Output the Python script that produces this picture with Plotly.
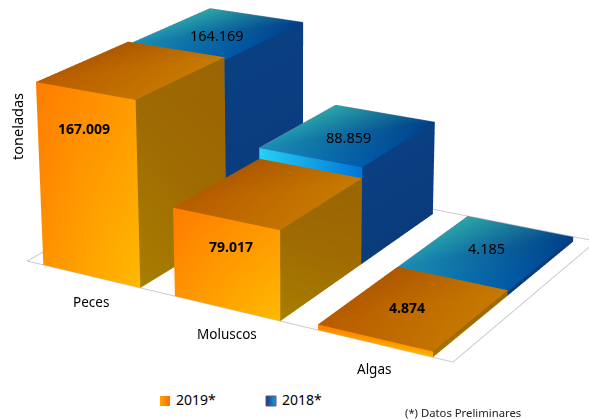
import plotly.graph_objects as go

categories = ["Peces", "Moluscos", "Algas"]
series_names = ["2019*", "2018*"]
values_2019 = [167009, 79017, 4874]
values_2018 = [164169, 88859, 4185]
labels_2019 = ["167.009", "79.017", "4.874"]
labels_2018 = ["164.169", "88.859", "4.185"]
front_label_height = [0.80, 0.69, None]
label_xshift_2019 = [-2, 5, -7]
label_yshift_2018 = [-2, -2, 4]

# Camera model of the reference picture: x = category, y = depth, z = tonnes
W, H = 589, 419
F = H * 1.2071
CX, CY = W / 2, H / 2
ORIGIN = (27, 261)
VP_X, A_X = (-3097, -480), -0.04
VP_Y, A_Y = (1593, -600), 0.0608
VP_Z, A_Z = (295, 6500), -0.0001697 / 1000
S = 2.0


def project(x, y, z):
    w = 1 + A_X * x + A_Y * y + A_Z * z
    nx = ORIGIN[0] + A_X * VP_X[0] * x + A_Y * VP_Y[0] * y + A_Z * VP_Z[0] * z
    ny = ORIGIN[1] + A_X * VP_X[1] * x + A_Y * VP_Y[1] * y + A_Z * VP_Z[1] * z
    return S * (nx - CX * w) / F, S * (CY * w - ny) / F, S - S * w


BAR_X0, BAR_X1 = 0.13, 0.875
FLOOR_DEPTH = 2.08

ORANGE = dict(
    front=["#ff7c00", "#ff9c00", "#ffb900", "#ff9200"],
    top=["#b85c00", "#c47400", "#c67a00", "#ac5800"],
    side=["#9e6a04", "#9a6404", "#a06c00", "#a87e00"],
)
BLUE = dict(
    front=["#28d0f4", "#0074d8", "#0074d8", "#28d0f4"],
    top=["#1b8fb4", "#005aa8", "#003f88", "#2aa6a6"],
    side=["#0a3f82", "#0a3f82", "#0a3c7c", "#0a3c7c"],
)


def bar_mesh(values, depth0, colors):
    xs, ys, zs, cs, ii, jj, kk = [], [], [], [], [], [], []

    def quad(corners, quad_colors):
        n = len(xs)
        for (a, b, c), col in zip(corners, quad_colors):
            px, py, pz = project(a, b, c)
            xs.append(px), ys.append(py), zs.append(pz), cs.append(col)
        ii.extend([n, n]), jj.extend([n + 1, n + 2]), kk.extend([n + 2, n + 3])

    d0, d1 = depth0, depth0 + 1
    for i, v in enumerate(values):
        x0, x1 = i + BAR_X0, i + BAR_X1
        quad([(x0, d0, v), (x1, d0, v), (x1, d0, 0), (x0, d0, 0)], colors["front"])
        quad([(x0, d0, v), (x1, d0, v), (x1, d1, v), (x0, d1, v)], colors["top"])
        quad([(x1, d0, v), (x1, d1, v), (x1, d1, 0), (x1, d0, 0)], colors["side"])
    return go.Mesh3d(
        x=xs, y=ys, z=zs, i=ii, j=jj, k=kk, vertexcolor=cs, flatshading=False,
        lighting=dict(ambient=1, diffuse=0, specular=0, roughness=1, fresnel=0),
        hoverinfo="skip", showlegend=False, showscale=False,
    )


def polyline(points):
    px, py, pz = [], [], []
    for p in points:
        if p is None:
            px.append(None), py.append(None), pz.append(None)
        else:
            a, b, c = project(*p)
            px.append(a), py.append(b), pz.append(c)
    return px, py, pz


n_cat = len(categories)
floor = polyline([(0, 0, 0), (n_cat, 0, 0), (n_cat, FLOOR_DEPTH, 0), (0, FLOOR_DEPTH, 0), (0, 0, 0)])
floor_trace = go.Scatter3d(x=floor[0], y=floor[1], z=floor[2], mode="lines",
                           line=dict(color="#cbcbcb", width=2), hoverinfo="skip", showlegend=False)

edge_pts = []
for i, v in enumerate(values_2018):
    x0, x1 = i + BAR_X0, i + BAR_X1
    edge_pts += [(x0, 1, v), (x0, 2, v), (x1, 2, v), None]
edges = polyline(edge_pts)
edge_trace = go.Scatter3d(x=edges[0], y=edges[1], z=edges[2], mode="lines",
                          line=dict(color="#6f80a6", width=2), hoverinfo="skip", showlegend=False)

FONT = "Noto Sans, Open Sans, sans-serif"
INK = "#000000"

fig = go.Figure([floor_trace, bar_mesh(values_2019, 0, ORANGE), bar_mesh(values_2018, 1, BLUE), edge_trace])

# Legend key squares with their labels, in page pixels on a hidden axis pair
fig.add_trace(go.Scatter(x=[165], y=[401], mode="markers+text", text=[" " + series_names[0]], textposition="middle right",
                         textfont=dict(family=FONT, size=14, color=INK), hoverinfo="skip", showlegend=False,
                         marker=dict(symbol="square", size=10, color="#ffa400",
                                     gradient=dict(type="horizontal", color="#ff6c00"))))
fig.add_trace(go.Scatter(x=[271], y=[401], mode="markers+text", text=[" " + series_names[1]], textposition="middle right",
                         textfont=dict(family=FONT, size=14, color=INK), hoverinfo="skip", showlegend=False,
                         marker=dict(symbol="square", size=10, color="#0a3f82",
                                     line=dict(color="#7a4a78", width=1),
                                     gradient=dict(type="horizontal", color="#1a9ce0"))))

notes = []


def note(pos, text, size=14.5, bold=False, yshift=0, xshift=0):
    px, py, pz = project(*pos)
    notes.append(dict(x=px, y=py, z=pz, text=f"<b>{text}</b>" if bold else text, showarrow=False,
                      font=dict(family=FONT, size=size, color=INK),
                      xanchor="center", yanchor="middle", xshift=xshift, yshift=yshift))


for i in range(n_cat):
    xc = i + (BAR_X0 + BAR_X1) / 2
    note((xc, 0, 0), categories[i], size=13.5, yshift=-26, xshift=0)
    note((xc, 1.5, values_2018[i]), labels_2018[i], size=14.5, yshift=label_yshift_2018[i])
    if front_label_height[i] is not None:
        note((xc, 0, values_2019[i] * front_label_height[i]), labels_2019[i], size=14, bold=True,
             xshift=label_xshift_2019[i])
    else:
        note((xc, 0.5, values_2019[i]), labels_2019[i], size=14, bold=True, xshift=label_xshift_2019[i])

hidden = dict(visible=False, range=[-2, 2], autorange=False, showgrid=False, zeroline=False,
              showbackground=False, showspikes=False)
fig.update_layout(
    width=W, height=H, margin=dict(l=0, r=0, t=0, b=0), paper_bgcolor="white", plot_bgcolor="white",
    scene=dict(
        domain=dict(x=[0, 1], y=[0, 1]),
        xaxis=hidden, yaxis=hidden, zaxis=hidden,
        aspectmode="manual", aspectratio=dict(x=4, y=4, z=4),
        camera=dict(eye=dict(x=0, y=0, z=S), center=dict(x=0, y=0, z=0), up=dict(x=0, y=1, z=0),
                    projection=dict(type="perspective")),
        annotations=notes, dragmode=False,
    ),
    xaxis=dict(visible=False, range=[0, W], autorange=False, domain=[0, 1]),
    yaxis=dict(visible=False, range=[H, 0], autorange=False, domain=[0, 1]),
    showlegend=False,
    annotations=[
        dict(text="toneladas", textangle=-90, x=17 / W, y=1 - 127 / H, xref="paper", yref="paper",
             xanchor="center", yanchor="middle",
             showarrow=False, font=dict(family=FONT, size=14.5, color=INK)),
        dict(text="(*) Datos Preliminares", x=463 / W, y=1 - 412 / H, xref="paper", yref="paper",
             xanchor="center", yanchor="middle",
             showarrow=False, font=dict(family=FONT, size=11.3, color="#222222")),
    ],
)
fig.write_html("out.html", config=dict(displayModeBar=False),
               post_script="document.body.style.margin='0';window.dispatchEvent(new Event('resize'));")
